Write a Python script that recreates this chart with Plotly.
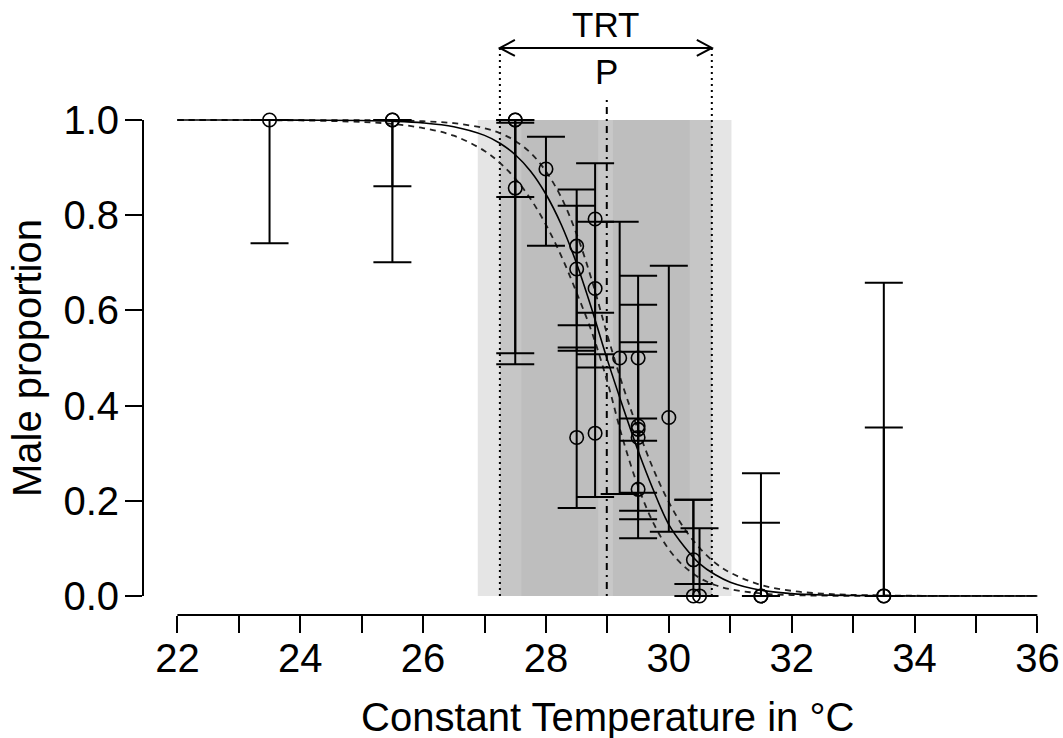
import plotly.graph_objects as go

# ---------------- data ----------------
obs_temp = [23.5, 25.5, 25.5, 27.5, 27.5, 27.5, 28.0, 28.5, 28.5, 28.5,
            28.8, 28.8, 28.8, 29.2, 29.5, 29.5, 29.5, 29.5, 29.5, 30.0,
            30.4, 30.4, 30.5, 31.5, 31.5, 33.5, 33.5]
obs_prop = [1.0, 1.0, 1.0, 1.0, 1.0, 0.857, 0.897, 0.735, 0.687, 0.333,
            0.792, 0.646, 0.342, 0.5, 0.5, 0.357, 0.333, 0.35, 0.224, 0.375,
            0.076, 0.0, 0.0, 0.0, 0.0, 0.0, 0.0]
obs_low = [0.741, 0.861, 0.701, 0.838, 0.51, 0.487, 0.736, 0.569, 0.515, 0.185,
           0.595, 0.48, 0.208, 0.214, 0.326, 0.161, 0.179, 0.217, 0.121, 0.135,
           0.025, 0.0, 0.0, 0.0, 0.0, 0.0, 0.0]
obs_high = [1.0, 1.0, 1.0, 1.0, 1.0, 0.994, 0.965, 0.854, 0.82, 0.522,
            0.909, 0.786, 0.508, 0.786, 0.673, 0.612, 0.533, 0.513, 0.373, 0.694,
            0.202, 0.202, 0.142, 0.258, 0.154, 0.658, 0.354]

curve_temp = [22, 23, 24, 25, 25.5, 26, 26.5, 27, 27.25, 27.5, 27.75, 28, 28.25,
              28.5, 28.75, 29, 29.25, 29.5, 29.75, 30, 30.25, 30.5, 30.75, 31,
              31.5, 32, 32.5, 33, 34, 35, 36]
curve_fit = [1.0, 1.0, 0.9998, 0.9989, 0.9974, 0.994, 0.9859, 0.9677, 0.9512, 0.927,
             0.8925, 0.844, 0.78, 0.698, 0.601, 0.496, 0.398, 0.305, 0.222, 0.15,
             0.104, 0.068, 0.045, 0.029, 0.012, 0.005, 0.002, 0.001, 0.0, 0.0, 0.0]
curve_low = [1.0, 0.9998, 0.999, 0.9958, 0.9917, 0.983, 0.967, 0.935, 0.91, 0.877,
             0.834, 0.78, 0.714, 0.637, 0.553, 0.45, 0.33, 0.23, 0.153, 0.098,
             0.062, 0.038, 0.023, 0.0143, 0.0053, 0.0019, 0.0007, 0.0003, 0.0, 0.0, 0.0]
curve_high = [1.0, 1.0, 0.9999, 0.9996, 0.999, 0.9974, 0.9933, 0.9827, 0.9723, 0.956,
              0.931, 0.892, 0.837, 0.76, 0.662, 0.548, 0.442, 0.349, 0.266, 0.197,
              0.142, 0.101, 0.07, 0.049, 0.023, 0.0107, 0.0049, 0.0023, 0.0005, 0.0001, 0.0]

TRT = [27.25, 30.70]
TRT_low_CI = [26.89, 27.60]
TRT_high_CI = [30.34, 31.02]
P_value = 28.99
P_CI = [28.85, 29.09]

x_ticks = [22, 24, 26, 28, 30, 32, 34, 36]
y_ticks = [0.0, 0.2, 0.4, 0.6, 0.8, 1.0]
y_tick_text = ["0.0", "0.2", "0.4", "0.6", "0.8", "1.0"]
x_title = "Constant Temperature in °C"
y_title = "Male proportion"

# ---------------- style ----------------
FONT = "Liberation Sans, Arial, sans-serif"
ARROW_Y = 1.1513
P_TOP = 1.0525
TRT_LABEL_Y = 1.2006
P_LABEL_Y = 1.102

fig = go.Figure()

fig.add_trace(go.Scatter(x=curve_temp, y=curve_low, mode="lines",
                         line=dict(color="#222222", width=1.8, dash="6px,5px", shape="spline"),
                         showlegend=False, hoverinfo="skip"))
fig.add_trace(go.Scatter(x=curve_temp, y=curve_high, mode="lines",
                         line=dict(color="#222222", width=1.8, dash="6px,5px", shape="spline"),
                         showlegend=False, hoverinfo="skip"))
fig.add_trace(go.Scatter(x=curve_temp, y=curve_fit, mode="lines",
                         line=dict(color="black", width=1.6, shape="spline"),
                         showlegend=False, hoverinfo="skip"))

err_plus = [h - p for h, p in zip(obs_high, obs_prop)]
err_minus = [p - l for p, l in zip(obs_prop, obs_low)]
fig.add_trace(go.Scatter(
    x=obs_temp, y=obs_prop, mode="markers",
    marker=dict(symbol="circle-open", size=13.5, color="black", line=dict(width=1.6)),
    error_y=dict(type="data", array=err_plus, arrayminus=err_minus, symmetric=False,
                 color="black", thickness=2, width=19),
    showlegend=False))

shapes = []
# shaded TRT areas (nested, opaque)
shapes.append(dict(type="rect", xref="x", yref="y", x0=TRT_low_CI[0], x1=TRT_high_CI[1],
                   y0=0, y1=1, fillcolor="#e5e5e5", line=dict(width=0), layer="below"))
shapes.append(dict(type="rect", xref="x", yref="y", x0=TRT[0], x1=TRT[1],
                   y0=0, y1=1, fillcolor="#c6c6c6", line=dict(width=0), layer="below"))
shapes.append(dict(type="rect", xref="x", yref="y", x0=TRT_low_CI[1], x1=TRT_high_CI[0],
                   y0=0, y1=1, fillcolor="#bebebe", line=dict(width=0), layer="below"))
shapes.append(dict(type="rect", xref="x", yref="y", x0=P_CI[0], x1=P_CI[1],
                   y0=0, y1=1, fillcolor="#c8c8c8", line=dict(width=0), layer="below"))
# TRT dotted limits and P line
for xv in TRT:
    shapes.append(dict(type="line", xref="x", yref="y", x0=xv, x1=xv, y0=0, y1=ARROW_Y,
                       line=dict(color="black", width=2, dash="2px,4px"), layer="below"))
shapes.append(dict(type="line", xref="x", yref="y", x0=P_value, x1=P_value, y0=0, y1=P_TOP,
                   line=dict(color="black", width=2, dash="2px,5px,7px,5px"), layer="below"))
# TRT arrow
shapes.append(dict(type="line", xref="x", yref="y", x0=TRT[0], x1=TRT[1], y0=ARROW_Y, y1=ARROW_Y,
                   line=dict(color="black", width=2)))
shapes.append(dict(type="path", xref="x", yref="y", xsizemode="pixel", ysizemode="pixel",
                   xanchor=TRT[0], yanchor=ARROW_Y, path="M15,8 L0,0 L15,-8",
                   line=dict(color="black", width=2)))
shapes.append(dict(type="path", xref="x", yref="y", xsizemode="pixel", ysizemode="pixel",
                   xanchor=TRT[1], yanchor=ARROW_Y, path="M-15,8 L0,0 L-15,-8",
                   line=dict(color="black", width=2)))
# axis lines (R style, detached)
shapes.append(dict(type="line", xref="x", yref="paper", x0=x_ticks[0], x1=x_ticks[-1], y0=0, y1=0,
                   line=dict(color="black", width=2)))
shapes.append(dict(type="line", xref="paper", yref="y", x0=0, x1=0, y0=y_ticks[0], y1=y_ticks[-1],
                   line=dict(color="black", width=2)))

fig.update_layout(
    width=1063, height=738,
    margin=dict(l=143, r=0, t=0, b=123, pad=0, autoexpand=False),
    paper_bgcolor="white", plot_bgcolor="white",
    font=dict(family=FONT, color="black", size=40),
    shapes=shapes,
    annotations=[
        dict(x=sum(TRT) / 2, y=TRT_LABEL_Y, xref="x", yref="y", text="TRT", showarrow=False,
             font=dict(size=35, family=FONT, color="black")),
        dict(x=P_value, y=P_LABEL_Y, xref="x", yref="y", text="P", showarrow=False,
             font=dict(size=35, family=FONT, color="black")),
        dict(x=(x_ticks[0] + x_ticks[-1]) / 2, y=0, xref="x", yref="paper", text=x_title,
             showarrow=False, xanchor="center", yanchor="top", yshift=-78,
             font=dict(size=40, family=FONT, color="black")),
        dict(x=0, y=(y_ticks[0] + y_ticks[-1]) / 2, xref="paper", yref="y", text=y_title,
             showarrow=False, textangle=-90, xanchor="center", yanchor="middle", xshift=-116,
             font=dict(size=40, family=FONT, color="black")),
    ],
    xaxis=dict(range=[21.44, 36.417], tickvals=x_ticks, ticks="outside", ticklen=17,
               tickwidth=2, tickcolor="black", showline=False, showgrid=False, zeroline=False,
               automargin=False, ticklabelstandoff=-9,
               tickfont=dict(size=40, family=FONT),
               minor=dict(dtick=1, tick0=22, ticks="outside", ticklen=17, tickwidth=2,
                          tickcolor="black", showgrid=False)),
    yaxis=dict(range=[-0.04, 1.2521], tickvals=y_ticks, ticktext=y_tick_text, ticks="outside",
               ticklen=17, tickwidth=2, tickcolor="black", showline=False, showgrid=False,
               zeroline=False, automargin=False,
               tickfont=dict(size=40, family=FONT), ticklabelstandoff=-2),
)

fig.write_html("out.html", config={"displayModeBar": False})

# remove the default page margin so the figure sits at the window origin
with open("out.html", "r", encoding="utf-8") as fh:
    html = fh.read()
html = html.replace("<head>", "<head><style>html,body{margin:0;padding:0;overflow:hidden;}</style>", 1)
with open("out.html", "w", encoding="utf-8") as fh:
    fh.write(html)
